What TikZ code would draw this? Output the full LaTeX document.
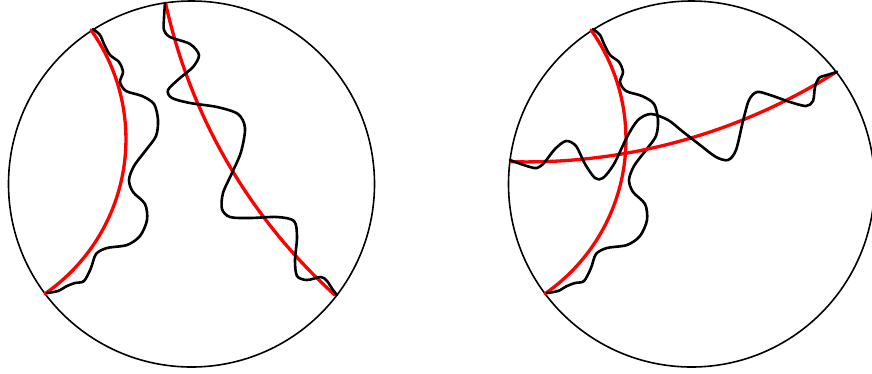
\documentclass[tikz,border=0pt]{standalone}

\begin{document}
\begin{tikzpicture}[x=1pt,y=-1pt,
    line cap=round, line join=round,
    rim/.style={line width=1.6pt},
    geo/.style={red,line width=3.3pt},
    walk/.style={line width=2.6pt}]
  \useasboundingbox (0,0) rectangle (872,373);
  % ---- 两个圆盘 + 共同的左侧测地线与游走（右图平移 500）----
  \foreach \dx in {0,500}{
    \begin{scope}[xshift=\dx pt]
      \coordinate (O) at (191.5,184);
      \draw[rim] (O) circle[radius=183];
      \draw[geo] (91,30) arc[start angle=-35.5,end angle=55.3,radius=188];
      \draw[walk] plot[smooth] coordinates {
        (93,29) (100,35) (104,44) (110,55) (119,62) (123,72) (120,82)
        (126,91) (142,96) (154,104) (158,120) (156,136) (146,150)
        (134,166) (129,180) (133,192) (145,204) (147,220) (140,236)
        (127,245) (107,248) (96,254) (91,268) (84,281) (75,283)
        (67,286) (58,291) (47,293)};
    \end{scope}
  }
  % ---- 左图：右侧测地线与游走 ----
  \draw[geo] (165.6,3.2) arc[start angle=167.7,end angle=132.05,radius=551.1];
  \draw[walk] plot[smooth] coordinates {
    (165,3) (164,18) (164,30) (170,37) (190,44) (199,55) (193,67)
    (180,78) (168,90) (172,98) (190,103) (217,107) (238,114) (245,128)
    (241,152) (232,173) (223,193) (222,209) (230,217) (250,218)
    (277,217) (294,221) (297,237) (295,260) (297,276) (307,280)
    (321,277) (327,281) (333,290) (337,295)};
  % ---- 右图：横向测地线与游走 ----
  \draw[geo] (511,161.7) arc[start angle=91.52,end angle=57.59,radius=578.9];
  \draw[walk] plot[smooth] coordinates {
    (510,160) (518,163) (530,167) (537,168) (544,163) (555,149)
    (566,141) (576,146) (585,164) (595,178) (603,178) (614,164)
    (627,137) (638,120) (651,114) (668,120) (682,131) (700,145)
    (716,157) (728,160) (736,150) (743,121) (749,100) (757,92)
    (770,95) (790,102) (806,106) (813,101) (815,87) (819,78)
    (827,75) (837,72)};
\end{tikzpicture}
\end{document}
